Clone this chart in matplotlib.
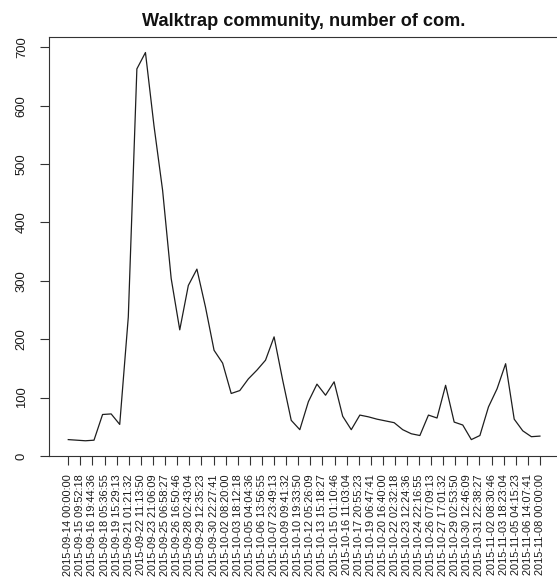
import matplotlib
matplotlib.use('Agg')
import matplotlib.pyplot as plt
import matplotlib.dates as mdates
import numpy as np
import pandas as pd

plt.rcParams['font.family'] = ['Liberation Sans', 'DejaVu Sans']

title = "Walktrap community, number of com."

start_date = "2015-09-14"
values = [28, 27, 26, 27, 71, 72, 54, 238, 663, 691,
          565, 455, 304, 216, 292, 320, 255, 181, 159, 107,
          112, 132, 147, 164, 204, 130, 61, 45, 93, 123,
          104, 127, 68, 45, 70, 67, 63, 60, 57, 45,
          38, 35, 70, 65, 121, 58, 53, 28, 35, 84,
          115, 158, 63, 43, 33, 34]

tick_labels = [
    "2015-09-14 00:00:00", "2015-09-15 09:52:18", "2015-09-16 19:44:36",
    "2015-09-18 05:36:55", "2015-09-19 15:29:13", "2015-09-21 01:21:32",
    "2015-09-22 11:13:50", "2015-09-23 21:06:09", "2015-09-25 06:58:27",
    "2015-09-26 16:50:46", "2015-09-28 02:43:04", "2015-09-29 12:35:23",
    "2015-09-30 22:27:41", "2015-10-02 08:20:00", "2015-10-03 18:12:18",
    "2015-10-05 04:04:36", "2015-10-06 13:56:55", "2015-10-07 23:49:13",
    "2015-10-09 09:41:32", "2015-10-10 19:33:50", "2015-10-12 05:26:09",
    "2015-10-13 15:18:27", "2015-10-15 01:10:46", "2015-10-16 11:03:04",
    "2015-10-17 20:55:23", "2015-10-19 06:47:41", "2015-10-20 16:40:00",
    "2015-10-22 02:32:18", "2015-10-23 12:24:36", "2015-10-24 22:16:55",
    "2015-10-26 07:09:13", "2015-10-27 17:01:32", "2015-10-29 02:53:50",
    "2015-10-30 12:46:09", "2015-10-31 22:38:27", "2015-11-02 08:30:46",
    "2015-11-03 18:23:04", "2015-11-05 04:15:23", "2015-11-06 14:07:41",
    "2015-11-08 00:00:00"]

y_ticks = [0, 100, 200, 300, 400, 500, 600, 700]

dates = pd.date_range(start_date, periods=len(values), freq="D")
xd = mdates.date2num(dates.to_pydatetime())
tick_pos = mdates.date2num(pd.to_datetime(tick_labels).to_pydatetime())

W, H = 557, 581
fig = plt.figure(figsize=(W / 100, H / 100), dpi=100)
left, right, top, bottom = 49.4, 558.8, 37.0, 456.3
ax = fig.add_axes([left / W, 1 - bottom / H, (right - left) / W, (bottom - top) / H])

ax.plot(xd, values, color='#1e1e1e', linewidth=0.9)

# R-style 4% axis extension
def rlim(lo, hi):
    r = hi - lo
    return lo - 0.04 * r, hi + 0.04 * r

ax.set_xlim(*rlim(xd.min(), xd.max()))
ax.set_ylim(*rlim(min(values), max(values)))

ax.set_xticks(tick_pos)
ax.set_xticklabels(tick_labels, rotation=90, fontsize=7.9, color='#1a1a1a')
ax.set_yticks(y_ticks)
ax.set_yticklabels([str(v) for v in y_ticks], rotation=90, va='center',
                   fontsize=9.4, color='#1a1a1a')

ax.tick_params(axis='both', direction='out', length=6.5, width=0.8, color='#333333')
ax.tick_params(axis='x', pad=6.5)
ax.tick_params(axis='y', pad=9.0)
for s in ax.spines.values():
    s.set_color('#333333')
    s.set_linewidth(0.8)

fig.text(304 / W, 1 - 26 / H, title, ha='center', va='baseline',
         fontsize=13.1, fontweight='bold', color='#111111')

fig.savefig('out.png', dpi=100)
